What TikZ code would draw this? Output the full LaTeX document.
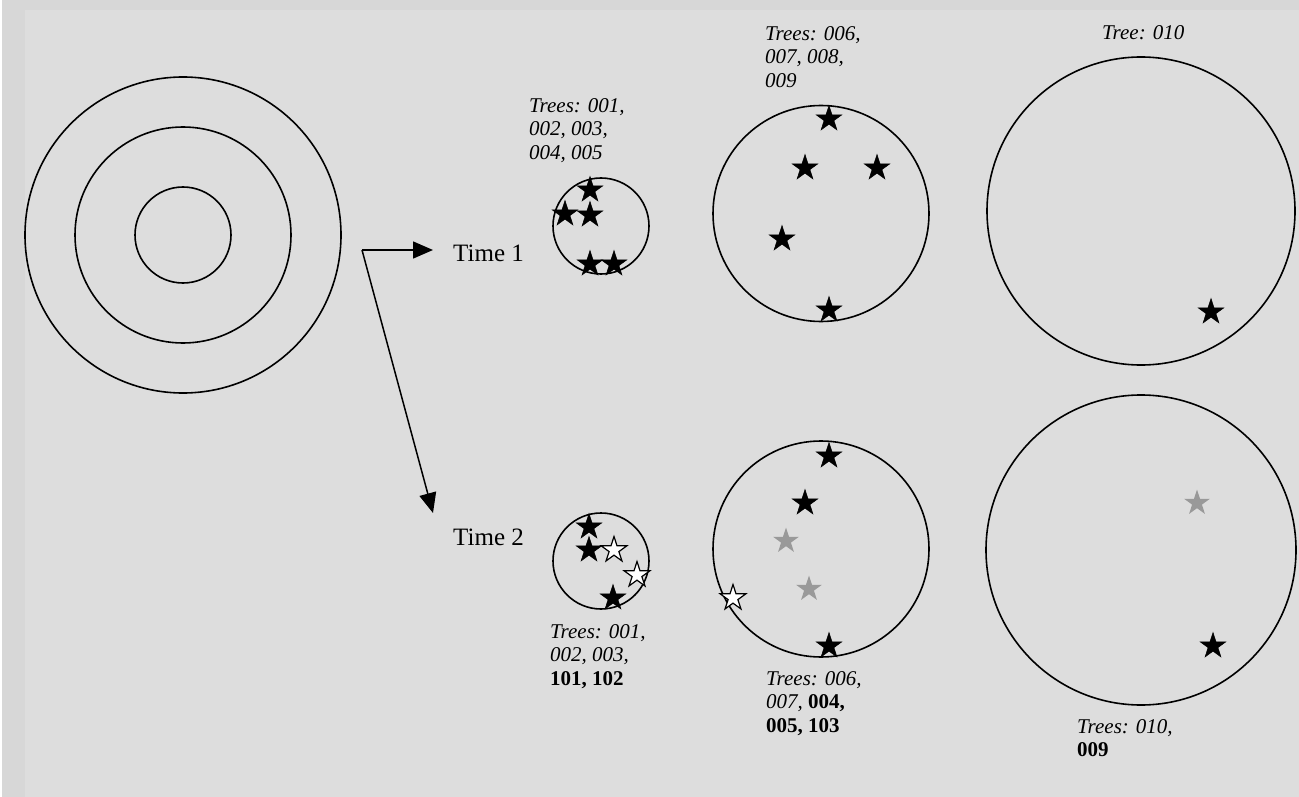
\documentclass[tikz,border=0pt]{standalone}
\usepackage{fontspec}
\setmainfont{Liberation Serif}
\usetikzlibrary{shapes.geometric,arrows.meta}
\definecolor{bgout}{HTML}{D7D7D7}
\definecolor{bgin}{HTML}{DDDDDD}
\definecolor{greystar}{HTML}{999999}
\tikzset{
  ring/.style={circle, draw=black, line width=1.6pt, inner sep=0pt, minimum size=#1},
  starbase/.style={star, star points=5, star point ratio=2.618, minimum size=27pt, inner sep=0pt},
  bstar/.style={starbase, fill=black, draw=black, line width=0.5pt},
  wstar/.style={starbase, fill=white, draw=black, line width=1.2pt},
  gstar/.style={starbase, fill=greystar, draw=none},
  lbl/.style={anchor=north west, inner sep=0pt, align=left, font=\fontsize{21}{23.5}\selectfont},
  timelbl/.style={anchor=base west, inner ysep=0pt, inner xsep=20pt, font=\fontsize{25}{28}\selectfont},
  arr/.style={line width=1.5pt, -{Triangle[length=20pt,width=17pt]}}
}
\begin{document}
\begin{tikzpicture}[x=1pt,y=-1pt]
\useasboundingbox (0,0) rectangle (1299,797);
\fill[white] (0,0) rectangle (1299,797);
\fill[bgout] (2,0) rectangle (1299,797);
\fill[bgin] (25,10) rectangle (1299,797);

% concentric circles
\node[ring=316pt] (r1) at (183,235) {};
\node[ring=216pt] (r2) at (183,235) {};
\node[ring=96pt] (r3) at (183,235) {};

% arrows and time labels
\coordinate (corner) at (362,250);
\node[timelbl] (t1) at (433,261) {Time 1};
\node[timelbl, inner xsep=0pt] (t2) at (453,545) {Time 2};
\coordinate (a2) at (433,513);
\draw[arr] (corner) -- (corner -| t1.west);
\draw[arr] (corner) -- (a2);

% ---- Time 1 ----
\node[ring=96pt] (c11) at (601,226) {};
\node[lbl] (l11) at (529,98) {\itshape Trees: 001,\\\itshape 002, 003,\\\itshape 004, 005};
\node[bstar] (s111) at (590,190) {};
\node[bstar] (s112) at (565,214) {};
\node[bstar] (s113) at (590,215) {};
\node[bstar] (s114) at (590,264) {};
\node[bstar] (s115) at (614,264) {};

\node[ring=216pt] (c12) at (821,213.5) {};
\node[lbl] (l12) at (765,26) {\itshape Trees: 006,\\\itshape 007, 008,\\\itshape 009};
\node[bstar] (s121) at (829,119) {};
\node[bstar] (s122) at (805,168) {};
\node[bstar] (s123) at (877,168) {};
\node[bstar] (s124) at (782,239) {};
\node[bstar] (s125) at (829,310) {};

\node[ring=308pt] (c13) at (1141,211) {};
\node[lbl] (l13) at (1102,25) {\itshape Tree: 010};
\node[bstar] (s131) at (1211,312) {};

% ---- Time 2 ----
\node[ring=96pt] (c21) at (601,561) {};
\node[lbl] (l21) at (550,624) {\itshape Trees: 001,\\\itshape 002, 003,\\\bfseries 101, 102};
\node[bstar] (s211) at (589,527) {};
\node[bstar] (s212) at (589,550) {};
\node[wstar] (s213) at (614,550) {};
\node[wstar] (s214) at (637,575) {};
\node[bstar] (s215) at (613,598) {};

\node[ring=216pt] (c22) at (821,549) {};
\node[lbl] (l22) at (766,671) {\itshape Trees: 006,\\\itshape 007, \bfseries\upshape 004,\\\bfseries 005, 103};
\node[bstar] (s221) at (829,456) {};
\node[bstar] (s222) at (805,503) {};
\node[gstar] (s223) at (786,541) {};
\node[gstar] (s224) at (809,589) {};
\node[wstar] (s225) at (733,598) {};
\node[bstar] (s226) at (829,646) {};

\node[ring=310pt] (c23) at (1141,550) {};
\node[lbl] (l23) at (1077,719) {\itshape Trees: 010,\\\bfseries 009};
\node[gstar] (s231) at (1197,503) {};
\node[bstar] (s232) at (1213,646) {};
\end{tikzpicture}
\end{document}
